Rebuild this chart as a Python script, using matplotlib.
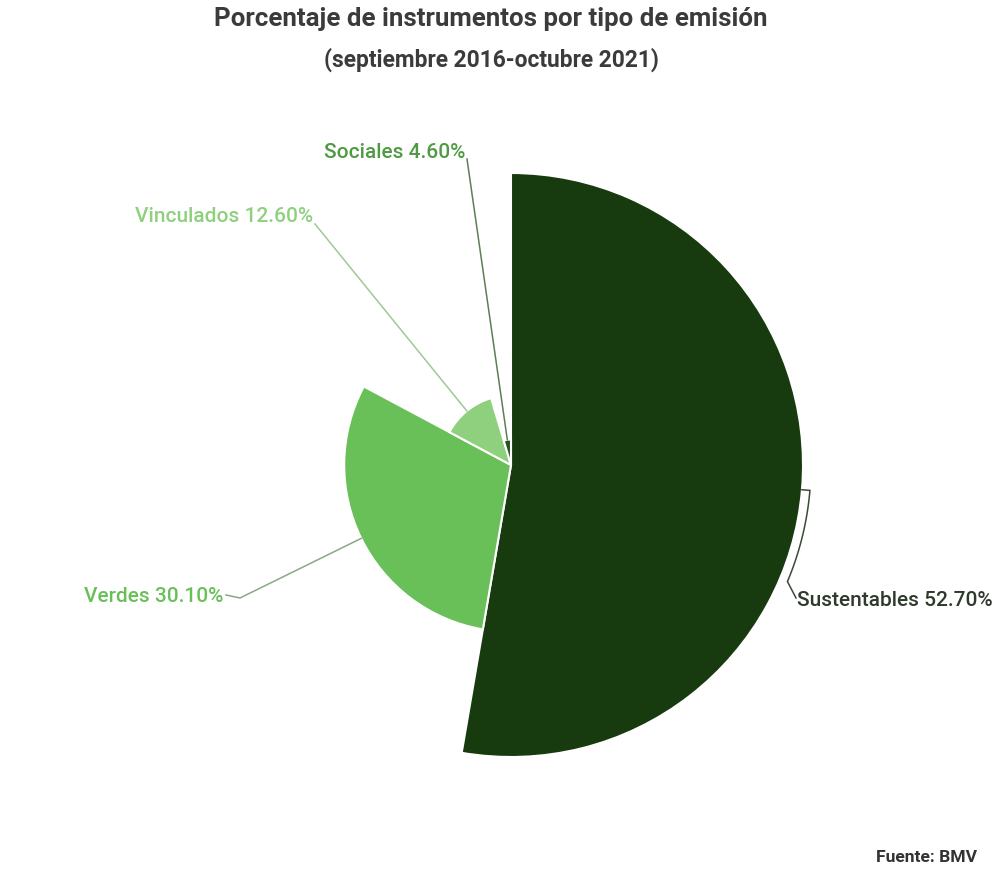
import numpy as np
import matplotlib.pyplot as plt
from matplotlib.patches import Wedge

plt.rcParams['font.family'] = ['Roboto', 'DejaVu Sans']

# datos (porcentajes por tipo de emision)
categorias = ['Sustentables', 'Verdes', 'Vinculados', 'Sociales']
porcentajes = [52.7, 30.1, 12.6, 4.6]
colores = ['#173a0e', '#69bf58', '#8fd07f', '#27521c']
color_etiqueta = ['#2e3a2c', '#69bf58', '#8fd07f', '#4f9b43']
color_linea = ['#3a4a38', '#8aa884', '#9fc996', '#5c7f55']

W, H = 1000, 874
cx, cy = 511, H - 465       # centro en pixeles (y hacia arriba)
escala = 292 / 52.7         # radio proporcional al valor

fig = plt.figure(figsize=(W / 100, H / 100), dpi=100)
ax = fig.add_axes([0, 0, 1, 1])
ax.set_xlim(0, W)
ax.set_ylim(0, H)
ax.set_aspect('equal')
ax.axis('off')

# posiciones de etiquetas (x, y, alineacion)
pos_etiquetas = [(797, H - 601, 'left'), (223, H - 597, 'right'),
                 (313, H - 217, 'right'), (465, H - 152, 'right')]

inicio = 0.0
for i, (cat, val) in enumerate(zip(categorias, porcentajes)):
    ang = val / 100 * 360
    r = val * escala
    # angulos en sentido horario desde arriba -> estandar
    t1 = 90 - (inicio + ang)
    t2 = 90 - inicio
    ax.add_patch(Wedge((cx, cy), r, t1, t2, facecolor=colores[i],
                       edgecolor='white', linewidth=1.5))
    medio = inicio + ang / 2
    th = np.radians(90 - medio)
    x0, y0 = cx + r * np.cos(th), cy + r * np.sin(th)
    lx, ly, ha = pos_etiquetas[i]
    if i == 0:
        # conector que sigue el arco
        angs = np.radians(90 - np.linspace(medio, medio + 18, 30))
        xs = np.concatenate([[x0], cx + (r + 8) * np.cos(angs), [lx - 1]])
        ys = np.concatenate([[y0], cy + (r + 8) * np.sin(angs), [ly + 3]])
    elif i == 1:
        xs = [x0, 240, lx + 3]
        ys = [y0, H - 598, H - 595]
    else:
        xs = [x0, lx + 2]
        ys = [y0, ly - 7]
    ax.plot(xs, ys, color=color_linea[i], lw=1.1, solid_joinstyle='miter')
    ax.text(lx, ly, f'{cat} {val:.2f}%', ha=ha, va='center', fontsize=15,
            color=color_etiqueta[i], fontweight='medium')
    inicio += ang

ax.text(491, H - 19, 'Porcentaje de instrumentos por tipo de emisión', ha='center',
        va='center', fontsize=18.6, fontweight='bold', color='#3b3b3b')
ax.text(491, H - 60, '(septiembre 2016-octubre 2021)', ha='center', va='center',
        fontsize=16.4, fontweight='bold', color='#3b3b3b')
ax.text(977, H - 857, 'Fuente: BMV', ha='right', va='center', fontsize=12.6,
        fontweight='bold', color='#333333')

fig.savefig('out.png', dpi=100, facecolor='white')
